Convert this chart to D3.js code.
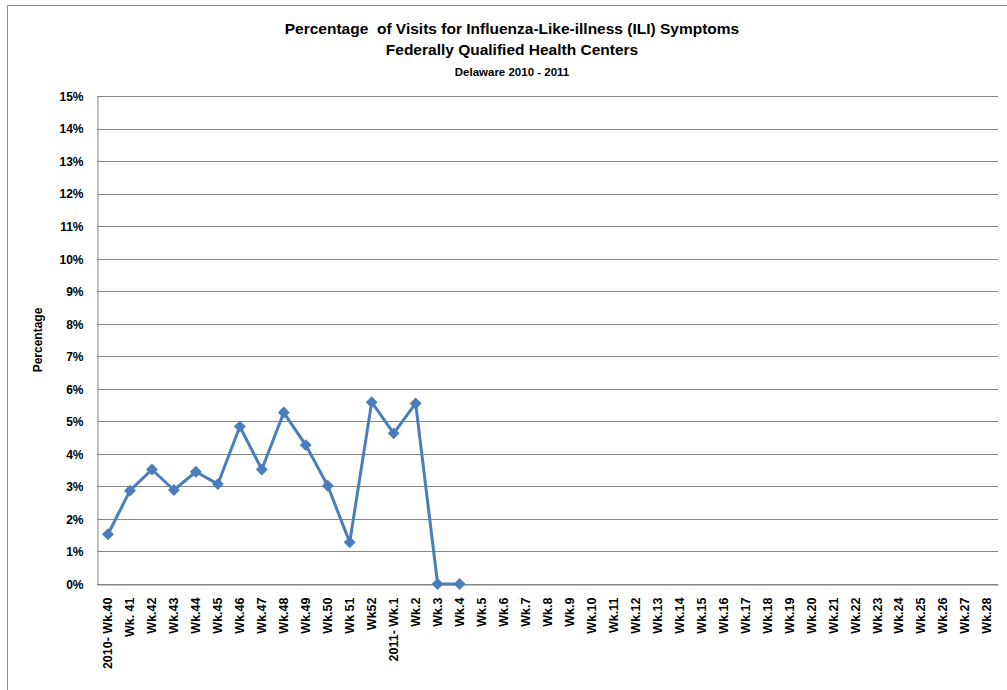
<!DOCTYPE html>
<meta charset="utf-8">
<style>
body{
  margin: 0;
  background-color: white;
}
text{
  font-family: "Liberation Sans Narrow", "Liberation Sans", sans-serif;
  font-weight: bold;
  fill: #000;
}
.title{
  white-space: pre;
}
</style>
<body>
<svg class="chart"></svg>
<script src="https://cdn.jsdelivr.net/npm/d3@7"></script>
<script>
// week labels along the x axis
var weeks = ["2010- Wk.40", "Wk. 41", "Wk.42", "Wk.43", "Wk.44", "Wk.45", "Wk.46", "Wk.47",
  "Wk.48", "Wk.49", "Wk.50", "Wk 51", "Wk52", "2011- Wk.1", "Wk.2", "Wk.3", "Wk.4",
  "Wk.5", "Wk.6", "Wk.7", "Wk.8", "Wk.9", "Wk.10", "Wk.11", "Wk.12", "Wk.13", "Wk.14",
  "Wk.15", "Wk.16", "Wk.17", "Wk.18", "Wk.19", "Wk.20", "Wk.21", "Wk.22", "Wk.23",
  "Wk.24", "Wk.25", "Wk.26", "Wk.27", "Wk.28"];

// percent of visits, only reported weeks
var iliPct = [1.53, 2.87, 3.52, 2.89, 3.45, 3.07, 4.84, 3.52, 5.27, 4.27, 3.02, 1.28,
  5.59, 4.63, 5.55, 0, 0];

// y ticks in percent
var yTicks = d3.range(0, 16);

var titleLines = ["Percentage  of Visits for Influenza-Like-illness (ILI) Symptoms",
  "Federally Qualified Health Centers"];
var subTitle = "Delaware 2010 - 2011";
</script>

<script>
var W = 1007, H = 690;
// plot box
var pLeft = 97, pRight = 998, pTop = 96, pBottom = 584;

var svg = d3.select('svg').attr('width', W).attr('height', H);

// outer chart border
svg.append("path")
  .attr("d", "M7.5,700 V5.5 H1010")
  .attr("fill", "none")
  .attr("stroke", "#8c8c8c")
  .attr("stroke-width", 1);

var x = d3.scaleBand().domain(weeks).range([pLeft, pRight]);
var y = d3.scaleLinear().domain([0, 15]).range([pBottom, pTop]);

// gridlines
svg.append("g")
  .selectAll("line")
  .data(yTicks)
  .enter()
  .append("line")
  .attr("x1", pLeft)
  .attr("x2", pRight)
  .attr("y1", function (d) { return Math.round(y(d)) + 0.5; })
  .attr("y2", function (d) { return Math.round(y(d)) + 0.5; })
  .attr("stroke", "#868686")
  .attr("stroke-width", 1);

// y axis
var yAxis = svg.append("g")
  .attr("transform", "translate(" + (pLeft + 0.5) + ",0.5)")
  .call(d3.axisLeft(y).tickValues(yTicks).tickSize(0).tickPadding(14)
    .tickFormat(function (d) { return d + "%"; }));
yAxis.select(".domain").attr("stroke", "#868686");
yAxis.selectAll("text").attr("font-size", "12px").attr("font-family", null);

// x axis
var xAxis = svg.append("g")
  .attr("transform", "translate(0," + (pBottom + 0.5) + ")")
  .call(d3.axisBottom(x).tickSize(0).tickPadding(0));
xAxis.select(".domain").attr("stroke", "#868686");
xAxis.selectAll("text")
  .attr("font-size", "12.5px")
  .attr("font-family", null)
  .attr("transform", "rotate(-90)")
  .attr("text-anchor", "end")
  .attr("dy", "0.35em")
  .attr("x", -13)
  .attr("y", 0);

// y axis title
svg.append("text")
  .attr("transform", "translate(42,340) rotate(-90)")
  .attr("text-anchor", "middle")
  .attr("font-size", "12px")
  .text("Percentage");

// titles
svg.selectAll(".title")
  .data(titleLines)
  .enter()
  .append("text")
  .attr("class", "title")
  .attr("x", 512)
  .attr("y", function (d, i) { return 34 + i * 21; })
  .attr("text-anchor", "middle")
  .attr("font-size", "15.5px")
  .text(function (d) { return d; });

svg.append("text")
  .attr("x", 512)
  .attr("y", 76)
  .attr("text-anchor", "middle")
  .attr("font-size", "11.5px")
  .text(subTitle);

// series line
var pts = iliPct.map(function (v, i) {
  return [x(weeks[i]) + x.bandwidth() / 2, y(v)];
});

svg.append("path")
  .datum(pts)
  .attr("d", d3.line())
  .attr("fill", "none")
  .attr("stroke", "#4a7ebb")
  .attr("stroke-width", 3)
  .attr("stroke-linejoin", "round");

svg.selectAll(".marker")
  .data(pts)
  .enter()
  .append("path")
  .attr("class", "marker")
  .attr("d", d3.symbol().type(d3.symbolDiamond2).size(90))
  .attr("transform", function (d) { return "translate(" + d[0] + "," + d[1] + ")"; })
  .attr("fill", "#4a7ebb");
</script>
</body>
